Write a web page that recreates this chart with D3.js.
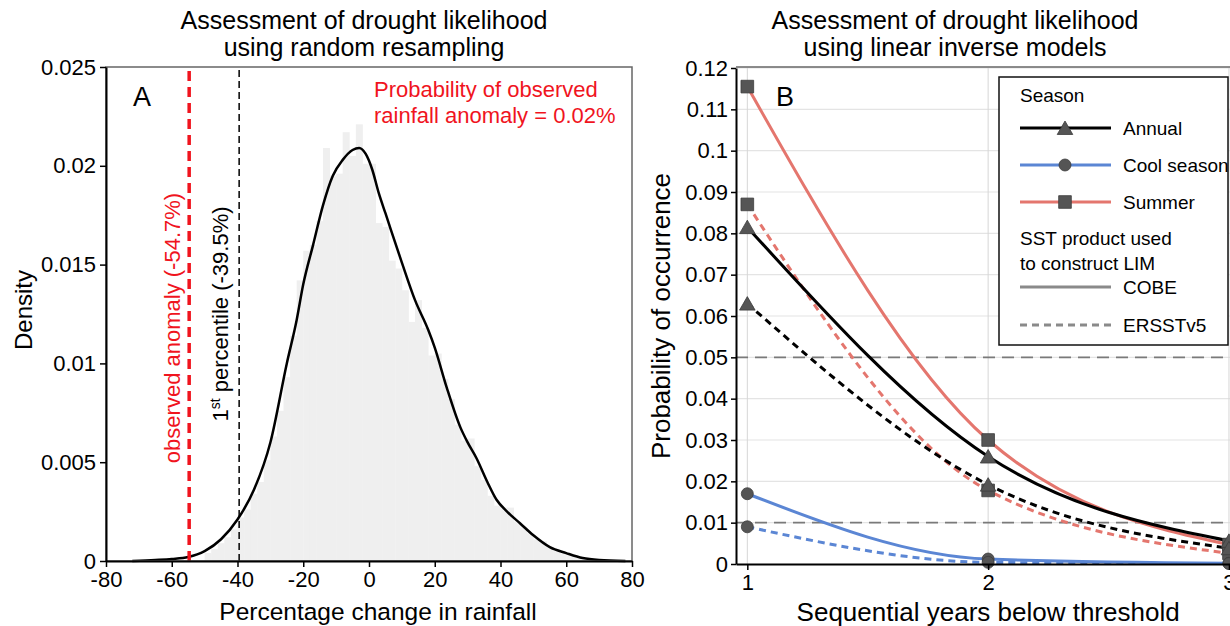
<!DOCTYPE html>
<html>
<head>
<meta charset="utf-8">
<script src="https://cdn.jsdelivr.net/npm/d3@7"></script>
<style>
body { margin: 0; background: #fff; }
text { font-family: "Liberation Sans", Arial, sans-serif; }
</style>
</head>
<body>
<svg id="chart" width="1230" height="626"></svg>
<script>
// ---- panel A data: resampled rainfall change ----
var binWidth = 2;
var histX0 = [-50,-48,-46,-44,-42,-40,-38,-36,-34,-32,-30,-28,-26,-24,-22,-20,-18,-16,-14,-12,-10,-8,-6,-4,-2,
              0,2,4,6,8,10,12,14,16,18,20,22,24,26,28,30,32,34,36,38,40,42,44,46,48,50,52,54,56,58,60,62,64,66,68];
var histDensity = [0.0004,0.0006,0.0009,0.0012,0.0016,0.0022,0.0026,0.0034,0.0040,0.0051,0.0063,0.0076,0.0093,0.0114,0.0142,0.0157,0.0160,0.0172,0.0209,0.0195,
                   0.0196,0.0217,0.0205,0.0221,0.0201,0.0201,0.0171,0.0169,0.0152,0.0148,0.0137,0.0121,0.0132,0.0118,0.0104,0.0105,0.0092,0.0082,0.0069,0.0061,
                   0.0062,0.0048,0.0041,0.0033,0.0028,0.0027,0.0027,0.0020,0.0017,0.0014,0.0011,0.0010,0.0007,0.0005,0.0004,0.0003,0.0002,0.0001,0.0001,0.00005];
var kdeX = [-72,-65,-60,-55,-50,-45,-40,-35,-30,-25,-22,-20,-17,-14,-11,-8,-5,-3,-1,1,3,5,10,14,18,20,23.6,27.7,30,32.7,36,38.8,42,46,50,55,60,65,70,78];
var kdeY = [0,0.00005,0.0001,0.0002,0.0005,0.0011,0.0021,0.0036,0.0060,0.0100,0.0122,0.0140,0.0160,0.0180,0.0195,0.0203,0.0208,0.0209,0.0206,0.0198,
            0.0186,0.0176,0.0151,0.0132,0.0117,0.0108,0.0088,0.0068,0.0060,0.0052,0.0040,0.0031,0.0025,0.0019,0.0013,0.0007,0.0004,0.00015,0.00005,0];
var observedAnomaly = -54.7;
var firstPercentile = -39.5;
var xTicksA = [-80,-60,-40,-20,0,20,40,60,80];
var yTicksA = [0,0.005,0.01,0.015,0.02,0.025];

// ---- panel B data: LIM probabilities ----
var years = [1,2,3];
var annualCOBE   = [0.0815,0.0260,0.0056];
var annualERSST  = [0.0630,0.0192,0.0038];
var coolCOBE     = [0.0170,0.0012,0.0002];
var coolERSST    = [0.0090,0.0004,0.0001];
var summerCOBE   = [0.1155,0.0300,0.0047];
var summerERSST  = [0.0870,0.0178,0.0026];
var thresholds = [0.05,0.01];
var xTicksB = [1,2,3];
var yTicksB = [0,0.01,0.02,0.03,0.04,0.05,0.06,0.07,0.08,0.09,0.1,0.11,0.12];

var RED = "#e4766e", BLUE = "#5b86d4", MARK = "#555555";
var fmt = function(d){ return d === 0 ? "0" : String(+d.toFixed(3)); };
var FONT = '"Liberation Sans", Arial, sans-serif';

var svg = d3.select("#chart");
svg.append("rect").attr("width",1230).attr("height",626).attr("fill","#fff");

// ================= panel A =================
var xA = d3.scaleLinear().domain([-80,80]).range([106,632]);
var yA = d3.scaleLinear().domain([0,0.025]).range([561,67]);
var gA = svg.append("g");

gA.selectAll("rect.bar")
  .data(histX0)
  .enter().append("rect")
  .attr("class","bar")
  .attr("x", function(d){ return xA(d); })
  .attr("width", function(d){ return xA(d + binWidth) - xA(d) + 0.4; })
  .attr("y", function(d,i){ return yA(histDensity[i]); })
  .attr("height", function(d,i){ return yA(0) - yA(histDensity[i]); })
  .attr("fill","#efefef");

var kde = d3.line()
  .x(function(d,i){ return xA(kdeX[i]); })
  .y(function(d){ return yA(d); })
  .curve(d3.curveMonotoneX);
gA.append("path").attr("d", kde(kdeY))
  .attr("fill","none").attr("stroke","#000").attr("stroke-width",2.5);

gA.append("line")
  .attr("x1",xA(observedAnomaly)).attr("x2",xA(observedAnomaly))
  .attr("y1",yA(0)).attr("y2",yA(0.025))
  .attr("stroke","#f0141e").attr("stroke-width",3.5).attr("stroke-dasharray","10,6");
gA.append("line")
  .attr("x1",xA(firstPercentile)).attr("x2",xA(firstPercentile))
  .attr("y1",yA(0)).attr("y2",yA(0.025))
  .attr("stroke","#000").attr("stroke-width",1.5).attr("stroke-dasharray","7,4");

// frame
gA.append("rect").attr("x",106).attr("y",67).attr("width",526).attr("height",494)
  .attr("fill","none").attr("stroke","#666").attr("stroke-width",1.5);

var axA_x = gA.append("g").attr("transform","translate(0,561)")
  .call(d3.axisBottom(xA).tickValues(xTicksA).tickFormat(function(d){ return String(d); })
        .tickSize(6).tickSizeOuter(0).tickPadding(4));
var axA_y = gA.append("g").attr("transform","translate(106,0)")
  .call(d3.axisLeft(yA).tickValues(yTicksA).tickFormat(fmt).tickSize(6).tickSizeOuter(0).tickPadding(4));
[axA_x, axA_y].forEach(function(a){
  a.select(".domain").attr("stroke","#000").attr("stroke-width",2);
  a.selectAll(".tick line").attr("stroke","#000").attr("stroke-width",1.5);
  a.selectAll(".tick text").attr("font-size",22).attr("fill","#000").style("font-family",FONT);
});

gA.append("text").attr("x",364).attr("y",29).attr("text-anchor","middle")
  .attr("font-size",25).text("Assessment of drought likelihood");
gA.append("text").attr("x",364).attr("y",56).attr("text-anchor","middle")
  .attr("font-size",25).text("using random resampling");
gA.append("text").attr("x",378).attr("y",620).attr("text-anchor","middle")
  .attr("font-size",24.5).text("Percentage change in rainfall");
gA.append("text").attr("transform","translate(32,310) rotate(-90)").attr("text-anchor","middle")
  .attr("font-size",24).text("Density");
gA.append("text").attr("x",133).attr("y",106).attr("font-size",27).text("A");

gA.append("text").attr("transform","translate(180,328) rotate(-90)").attr("text-anchor","middle")
  .attr("font-size",22).attr("fill","#f0141e").text("observed anomaly (" + observedAnomaly + "%)");
var pct = gA.append("text").attr("transform","translate(228,314) rotate(-90)").attr("text-anchor","middle")
  .attr("font-size",22).attr("fill","#000");
pct.append("tspan").text("1");
pct.append("tspan").attr("font-size",14).attr("dy",-8).text("st");
pct.append("tspan").attr("dy",8).text(" percentile (" + firstPercentile + "%)");

gA.append("text").attr("x",374).attr("y",97).attr("font-size",22).attr("fill","#f0141e")
  .text("Probability of observed");
gA.append("text").attr("x",374).attr("y",123).attr("font-size",22).attr("fill","#f0141e")
  .text("rainfall anomaly = 0.02%");

// ================= panel B =================
var xB = d3.scaleLinear().domain([0.953,3.05]).range([736,1241]);
var yB = d3.scaleLinear().domain([0,0.12]).range([564,68]);
var gB = svg.append("g");

gB.selectAll("line.hgrid").data(yTicksB.filter(function(d){ return d > 0; }))
  .enter().append("line").attr("class","hgrid")
  .attr("x1",736).attr("x2",1241)
  .attr("y1",function(d){ return yB(d); }).attr("y2",function(d){ return yB(d); })
  .attr("stroke","#e4e4e4").attr("stroke-width",1.2);
gB.selectAll("line.vgrid").data(xTicksB)
  .enter().append("line").attr("class","vgrid")
  .attr("x1",function(d){ return xB(d); }).attr("x2",function(d){ return xB(d); })
  .attr("y1",68).attr("y2",564)
  .attr("stroke","#d6d6d6").attr("stroke-width",1);
gB.selectAll("line.thr").data(thresholds)
  .enter().append("line").attr("class","thr")
  .attr("x1",736).attr("x2",1241)
  .attr("y1",function(d){ return yB(d); }).attr("y2",function(d){ return yB(d); })
  .attr("stroke","#7a7a7a").attr("stroke-width",1.8).attr("stroke-dasharray","12,7");

// top border
gB.append("line").attr("x1",736).attr("x2",1241).attr("y1",67).attr("y2",67)
  .attr("stroke","#666").attr("stroke-width",1.5);

var seriesB = [
  {v: summerCOBE,  color: RED,    dash: null,  shape: d3.symbolSquare,   size: 160},
  {v: summerERSST, color: RED,    dash: "7,5", shape: d3.symbolSquare,   size: 160},
  {v: coolCOBE,    color: BLUE,   dash: null,  shape: d3.symbolCircle,   size: 113},
  {v: coolERSST,   color: BLUE,   dash: "7,5", shape: d3.symbolCircle,   size: 113},
  {v: annualCOBE,  color: "#000", dash: null,  shape: d3.symbolTriangle, size: 105},
  {v: annualERSST, color: "#000", dash: "7,5", shape: d3.symbolTriangle, size: 105}
];
var lineB = d3.line()
  .x(function(d,i){ return xB(years[i]); })
  .y(function(d){ return yB(d); })
  .curve(d3.curveMonotoneX);

seriesB.forEach(function(s){
  gB.append("path").attr("d", lineB(s.v))
    .attr("fill","none").attr("stroke",s.color).attr("stroke-width",3)
    .attr("stroke-dasharray", s.dash);
});
seriesB.forEach(function(s){
  gB.selectAll(null).data(s.v).enter().append("path")
    .attr("transform", function(d,i){
      var dy = s.shape === d3.symbolTriangle ? 2 : 0;
      return "translate(" + xB(years[i]) + "," + (yB(d) + dy) + ")";
    })
    .attr("d", d3.symbol().type(s.shape).size(s.size))
    .attr("fill",MARK).attr("stroke","#3c3c3c").attr("stroke-width",0.8);
});

var axB_x = gB.append("g").attr("transform","translate(0,564)")
  .call(d3.axisBottom(xB).tickValues(xTicksB).tickFormat(d3.format("d"))
        .tickSize(6).tickSizeOuter(0).tickPadding(4));
var axB_y = gB.append("g").attr("transform","translate(736,0)")
  .call(d3.axisLeft(yB).tickValues(yTicksB).tickFormat(fmt).tickSize(5).tickSizeOuter(0).tickPadding(3));
[axB_x, axB_y].forEach(function(a){
  a.select(".domain").attr("stroke","#000").attr("stroke-width",2);
  a.selectAll(".tick line").attr("stroke","#000").attr("stroke-width",1.5);
  a.selectAll(".tick text").attr("font-size",22).attr("fill","#000").style("font-family",FONT);
});

gB.append("text").attr("x",955).attr("y",29).attr("text-anchor","middle")
  .attr("font-size",25).text("Assessment of drought likelihood");
gB.append("text").attr("x",955).attr("y",56).attr("text-anchor","middle")
  .attr("font-size",25).text("using linear inverse models");
gB.append("text").attr("x",xB(2)).attr("y",621).attr("text-anchor","middle")
  .attr("font-size",26).text("Sequential years below threshold");
gB.append("text").attr("transform","translate(670,316) rotate(-90)").attr("text-anchor","middle")
  .attr("font-size",26).text("Probability of occurrence");
gB.append("text").attr("x",776).attr("y",106).attr("font-size",27).text("B");

// legend
var lg = gB.append("g");
lg.append("rect").attr("x",999).attr("y",77).attr("width",229).attr("height",268)
  .attr("fill","#fff").attr("stroke","#111").attr("stroke-width",1.5);
lg.append("text").attr("x",1020).attr("y",102).attr("font-size",19).text("Season");
var legSeason = [
  {name:"Annual",      color:"#000", shape:d3.symbolTriangle, size:105, y:128},
  {name:"Cool season", color:BLUE,   shape:d3.symbolCircle,   size:113, y:165},
  {name:"Summer",      color:RED,    shape:d3.symbolSquare,   size:160, y:202}
];
legSeason.forEach(function(r){
  lg.append("line").attr("x1",1020).attr("x2",1111).attr("y1",r.y).attr("y2",r.y)
    .attr("stroke",r.color).attr("stroke-width",3);
  lg.append("path").attr("transform","translate(1065," + (r.y + (r.shape === d3.symbolTriangle ? 2 : 0)) + ")")
    .attr("d", d3.symbol().type(r.shape).size(r.size))
    .attr("fill",MARK).attr("stroke","#3c3c3c").attr("stroke-width",0.8);
  lg.append("text").attr("x",1123).attr("y",r.y + 7).attr("font-size",19).text(r.name);
});
lg.append("text").attr("x",1020).attr("y",245).attr("font-size",19).text("SST product used");
lg.append("text").attr("x",1020).attr("y",270).attr("font-size",19).text("to construct LIM");
var legSST = [{name:"COBE", dash:null, y:287}, {name:"ERSSTv5", dash:"7,5", y:325}];
legSST.forEach(function(r){
  lg.append("line").attr("x1",1020).attr("x2",1111).attr("y1",r.y).attr("y2",r.y)
    .attr("stroke","#8a8a8a").attr("stroke-width",3).attr("stroke-dasharray",r.dash);
  lg.append("text").attr("x",1123).attr("y",r.y + 7).attr("font-size",19).text(r.name);
});
</script>
</body>
</html>
